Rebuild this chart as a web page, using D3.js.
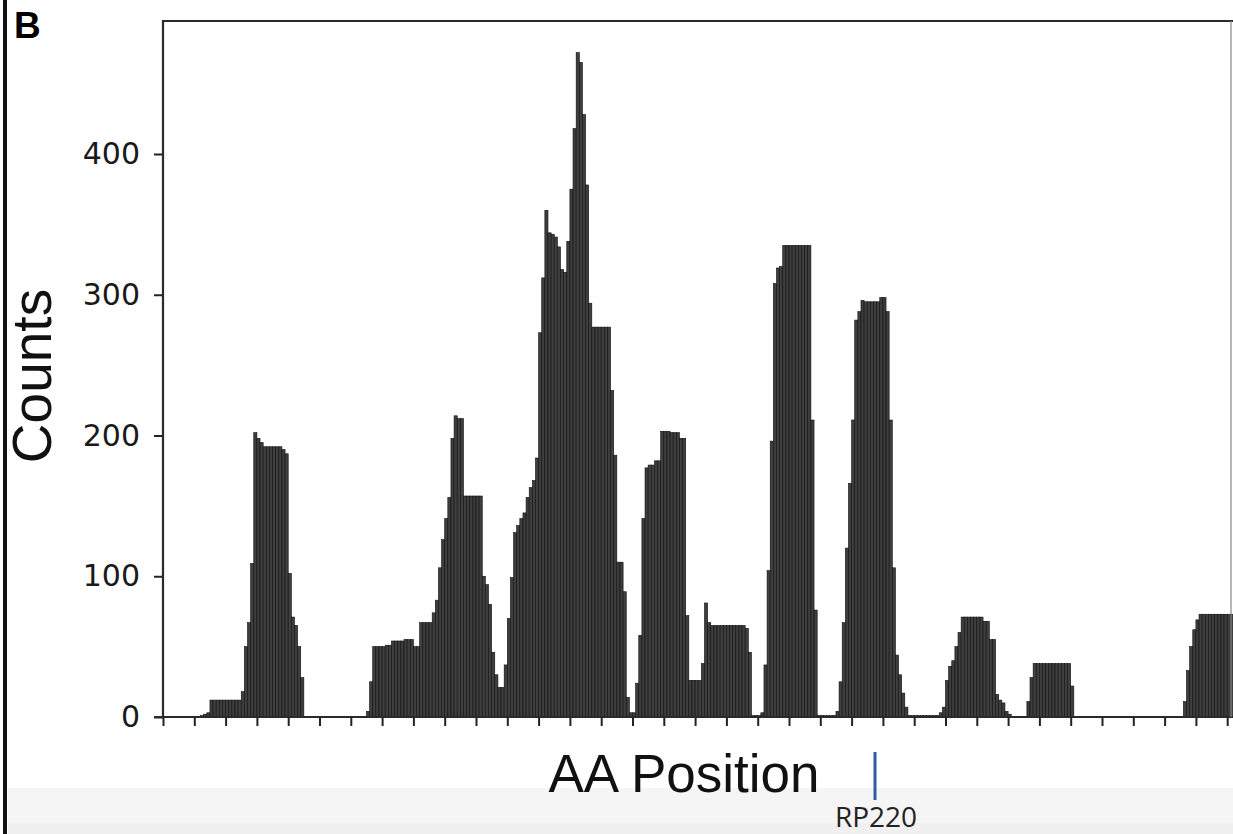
<html>

<head>
    <meta charset="UTF-8">
    <script src="https://d3js.org/d3.v7.min.js"></script>
    <style>
        body { margin: 0; background: #fff; }
    </style>
</head>

<body>

</body>
<script>
    // counts per AA position, one bar per position
    var counts = [
        0, 0, 0, 0, 0, 0, 0, 0, 0, 0,
        0, 0, 1, 2, 3, 12, 12, 12, 12, 12,
        12, 12, 12, 12, 12, 18, 50, 67, 109, 202,
        198, 195, 192, 192, 192, 192, 192, 192, 190, 187,
        102, 71, 65, 50, 28, 0, 0, 0, 0, 0,
        0, 0, 0, 0, 0, 0, 0, 0, 0, 0,
        0, 0, 0, 0, 0, 4, 25, 50, 50, 50,
        50, 51, 51, 54, 54, 54, 54, 55, 55, 55,
        50, 50, 67, 67, 67, 67, 74, 83, 106, 126,
        141, 156, 198, 214, 212, 212, 157, 157, 157, 157,
        157, 157, 100, 94, 80, 46, 30, 21, 21, 37,
        70, 99, 131, 136, 141, 145, 156, 163, 168, 184,
        273, 312, 360, 344, 343, 341, 334, 318, 316, 338,
        375, 418, 472, 465, 428, 378, 294, 277, 277, 277,
        277, 277, 277, 232, 186, 110, 110, 89, 14, 3,
        3, 24, 58, 141, 177, 179, 179, 182, 182, 203,
        203, 203, 202, 202, 202, 198, 198, 72, 26, 26,
        26, 26, 38, 81, 67, 65, 65, 65, 65, 65,
        65, 65, 65, 65, 65, 65, 63, 46, 1, 1,
        1, 3, 37, 104, 196, 308, 319, 320, 335, 335,
        335, 335, 335, 335, 335, 335, 335, 211, 76, 1,
        1, 1, 1, 1, 1, 4, 25, 67, 120, 166,
        211, 282, 288, 296, 295, 295, 295, 295, 295, 298,
        298, 288, 211, 106, 44, 30, 17, 7, 1, 1,
        1, 1, 1, 1, 1, 1, 1, 1, 3, 7,
        26, 36, 40, 50, 60, 71, 71, 71, 71, 71,
        71, 71, 68, 68, 55, 55, 16, 12, 10, 4,
        2, 0, 0, 0, 0, 0, 11, 28, 38, 38,
        38, 38, 38, 38, 38, 38, 38, 38, 38, 38,
        22, 0, 0, 0, 0, 0, 0, 0, 0, 0,
        0, 0, 0, 0, 0, 0, 0, 0, 0, 0,
        0, 0, 0, 0, 0, 0, 0, 0, 0, 0,
        0, 0, 0, 0, 0, 0, 11, 33, 50, 62,
        69, 73, 73, 73, 73, 73, 73, 73, 73, 73,
        73, 73
    ];

    var yTicks = [0, 100, 200, 300, 400];
    var xTicks = [0, 10, 20, 30, 40, 50, 60, 70, 80, 90, 100, 110, 120, 130, 140, 150, 160,
        170, 180, 190, 200, 210, 220, 230, 240, 250, 260, 270, 280, 290, 300, 310, 320, 330, 340];

    var panelLabel = "B";
    var xLabel = "AA Position";
    var yLabel = "Counts";
    var markerLabel = "RP220";

    var W = 1233, H = 834;
    // plot area (the right side of the original figure is cropped)
    var plotL = 163, plotR = 1231, plotT = 21, plotB = 717;

    var svg = d3.select("body")
        .append("svg")
        .attr("width", W)
        .attr("height", H);

    // light grey strip at the bottom of the screenshot
    svg.append("rect")
        .attr("x", 8).attr("y", 788)
        .attr("width", W - 8).attr("height", H - 788)
        .attr("fill", "#f5f5f5");
    svg.append("rect")
        .attr("x", 8).attr("y", 823)
        .attr("width", W - 8).attr("height", H - 823)
        .attr("fill", "#f0f0f0");

    // black border of the figure panel
    svg.append("rect")
        .attr("x", 3).attr("y", 0)
        .attr("width", 4).attr("height", H)
        .attr("fill", "#111");

    var x = d3.scaleLinear()
        .domain([0, 342])
        .range([plotL, plotL + 342 * 3.13]);

    var y = d3.scaleLinear()
        .domain([0, 400])
        .range([plotB, plotB - 563]);

    // bars
    svg.append("g")
        .selectAll("rect")
        .data(counts)
        .enter()
        .append("rect")
        .attr("x", function (d, i) { return x(i); })
        .attr("width", function (d, i) { return x(i + 1) - x(i); })
        .attr("y", function (d) { return y(d); })
        .attr("height", function (d) { return plotB - y(d); })
        .attr("fill", "#3e3e3e")
        .attr("stroke", "#0e0e0e")
        .attr("stroke-width", 0.6)
        .style("display", function (d) { return d > 0 ? null : "none"; });

    // y axis
    var yAxis = svg.append("g")
        .attr("transform", "translate(" + plotL + ",0)")
        .call(d3.axisLeft(y).tickValues(yTicks).tickSize(9).tickSizeOuter(0).tickPadding(14));
    yAxis.select(".domain").remove();
    yAxis.selectAll(".tick line").attr("stroke", "#222").attr("stroke-width", 2);
    yAxis.selectAll(".tick text")
        .style("font-family", "DejaVu Sans")
        .style("font-size", "30px")
        .attr("fill", "#1a1a1a");

    // x axis, ticks only
    var xAxis = svg.append("g")
        .attr("transform", "translate(0," + plotB + ")")
        .call(d3.axisBottom(x).tickValues(xTicks).tickSize(9).tickSizeOuter(0).tickFormat(""));
    xAxis.select(".domain").remove();
    xAxis.selectAll(".tick line").attr("stroke", "#222").attr("stroke-width", 2);

    // frame
    var frame = svg.append("g")
        .attr("stroke", "#2a2a2a")
        .attr("stroke-width", 2.2)
        .attr("fill", "none");
    frame.append("line").attr("x1", plotL).attr("x2", plotL).attr("y1", plotT - 1).attr("y2", plotB + 1);
    frame.append("line").attr("x1", plotL - 1).attr("x2", W).attr("y1", plotT).attr("y2", plotT);
    frame.append("line").attr("x1", plotL - 9).attr("x2", W).attr("y1", plotB).attr("y2", plotB);
    frame.append("line").attr("x1", plotR).attr("x2", plotR).attr("y1", plotT).attr("y2", plotB)
        .attr("stroke-width", 1.2).attr("stroke", "#888");

    // labels
    svg.append("text")
        .attr("x", 14).attr("y", 38)
        .style("font-family", "Liberation Sans")
        .style("font-weight", "bold")
        .style("font-size", "37px")
        .text(panelLabel);

    svg.append("text")
        .attr("x", 684).attr("y", 792)
        .attr("text-anchor", "middle")
        .style("font-family", "Liberation Sans")
        .style("font-size", "53px")
        .attr("fill", "#111")
        .text(xLabel);

    svg.append("text")
        .attr("transform", "translate(51,376) rotate(-90)")
        .attr("text-anchor", "middle")
        .style("font-family", "Liberation Sans")
        .style("font-size", "55px")
        .attr("fill", "#111")
        .text(yLabel);

    // RP220 marker
    svg.append("line")
        .attr("x1", 875).attr("x2", 875)
        .attr("y1", 752).attr("y2", 800)
        .attr("stroke", "#2f5ca8")
        .attr("stroke-width", 3);

    svg.append("text")
        .attr("x", 876).attr("y", 827)
        .attr("text-anchor", "middle")
        .style("font-family", "Open Sans")
        .style("font-size", "28px")
        .attr("fill", "#222")
        .text(markerLabel);
</script>

</html>
